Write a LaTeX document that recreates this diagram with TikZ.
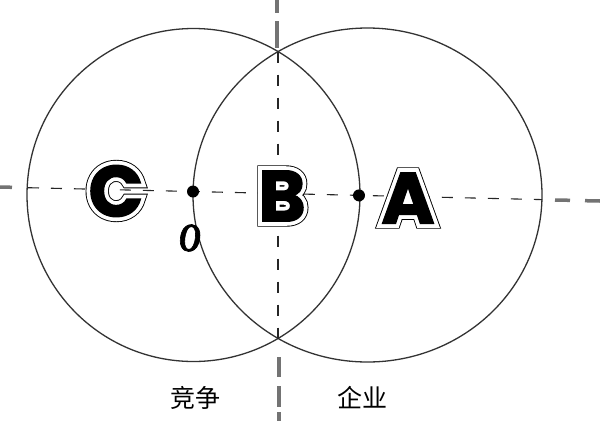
\documentclass[tikz,border=0pt]{standalone}
\usepackage{fontspec}
\newfontfamily\cjk{Noto Sans CJK SC}
\newfontfamily\pointfont{Liberation Serif}[BoldItalicFeatures={FakeBold=2}]
\newfontfamily\ringouter{Poppins}[BoldFeatures={FakeBold=15}]
\newfontfamily\ringinner{Poppins}[BoldFeatures={FakeBold=12.5}]
\newfontfamily\ringcore{Poppins}[BoldFeatures={FakeBold=2}]

\newcommand{\ringletter}[3]{%
	\node[letter] at (#1) {\ringouter\bfseries\color{black}#3};
	\node[letter] at (#1) {\ringinner\bfseries\color{white}#3};
	\node[letter] (#2) at (#1) {\ringcore\bfseries #3};
}

\begin{document}
\begin{tikzpicture}[x=1pt,y=-1pt,
	rim/.style={draw=black!80,line width=1.3pt},
	axis/.style={black!85,line width=1.1pt,dash pattern=on 11pt off 12pt},
	stub/.style={black!55,line width=3.5pt},
	dot/.style={circle,fill=black,inner sep=0pt,minimum size=12pt},
	letter/.style={font=\fontsize{72}{72}\selectfont,inner sep=0pt},
	cjklabel/.style={font=\cjk\fontsize{25}{25}\selectfont,inner sep=0pt}]
	  \useasboundingbox (0,0) rectangle (600,421);
	  \fill[white] (0,0) rectangle (600,421);
	  \coordinate (west) at (28,187.7);
	  \coordinate (east) at (542,199.6);
	  \coordinate (north) at (278,51.5);
	  \coordinate (south) at (278,338.5);

	  \draw[stub] (0,187) -- (12,187.3);
	  \draw[stub] (555,200) -- (570,200.3) (585,200.7) -- (600,201);
	  \draw[stub] (277,0) -- (277,13) (277,21) -- (277,48);
	  \draw[stub] (279,357) -- (279,377) (279,386) -- (279,407) (279,412) -- (279,421);

	  \draw[rim] (193.5,195) circle[radius=166.5];
	  \draw[rim] (367.5,195) ellipse[x radius=174.5,y radius=167];
	  \draw[axis] (west) -- (east);
	  \draw[axis] (north) -- (south);

	  \node[dot] (o) at (193,191.5) {};
	  \node[dot] (a) at (359,195.4) {};
	  \node[font=\pointfont\bfseries\itshape\fontsize{40}{40}\selectfont,inner sep=0pt] (olabel) at (190,238) {\scalebox{0.75}[1]{O}};

	  \ringletter{116,191}{c}{C}
	  \ringletter{282,196}{b}{B}
	  \ringletter{408,198}{a}{A}

	  \node[cjklabel] (rival) at (195,398) {竞争};
	  \node[cjklabel] (firm) at (362,398) {企业};
	\end{tikzpicture}
\end{document}
